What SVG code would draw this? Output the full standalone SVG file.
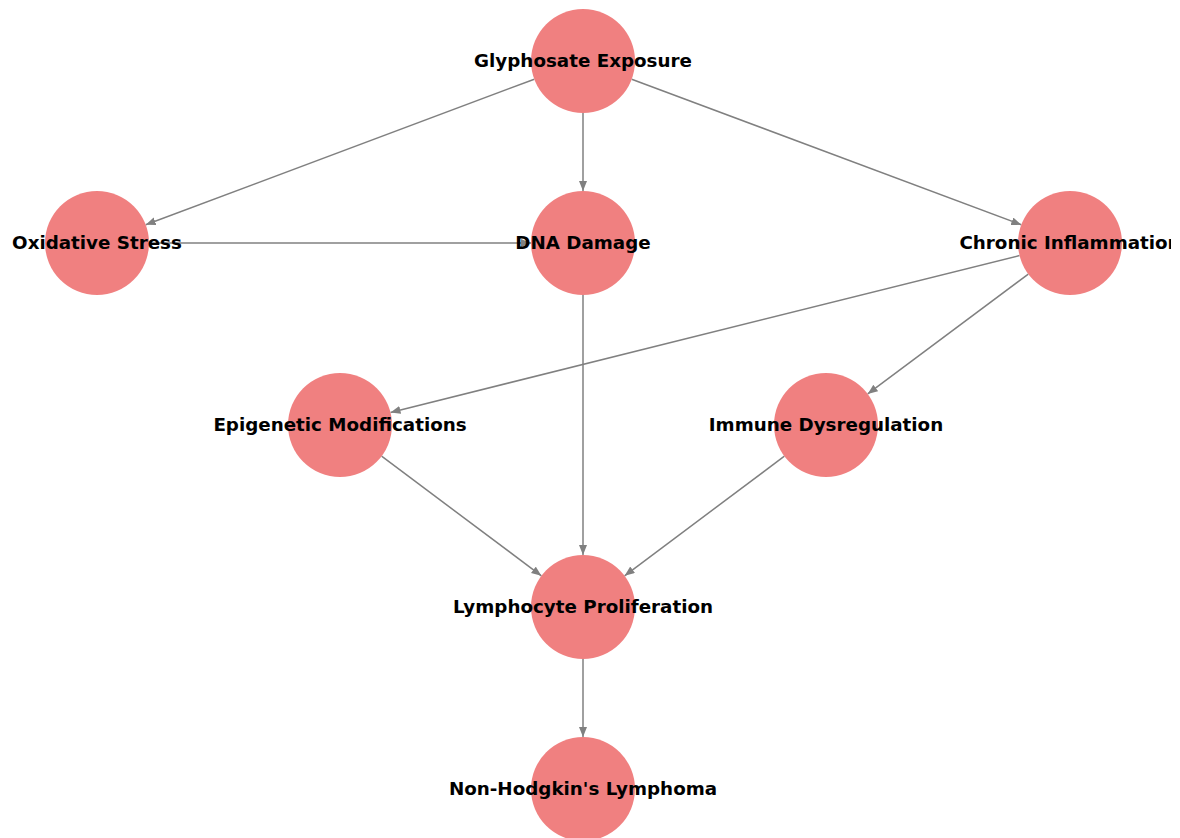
<svg xmlns="http://www.w3.org/2000/svg" width="1180" height="838" viewBox="0 0 1180 838">
<style>
.node circle{fill:#F08080;}
.node text{font-family:"DejaVu Sans","Liberation Sans",sans-serif;font-weight:bold;font-size:18.3px;fill:#000;text-anchor:middle;}
.edges line{stroke:#808080;stroke-width:1.5;marker-end:url(#arr);}
</style>
<defs>
<marker id="arr" markerUnits="userSpaceOnUse" markerWidth="12" markerHeight="10" refX="10" refY="4" orient="auto">
<path d="M0,0 L10,4 L0,8 Z" fill="#808080"/>
</marker>
<clipPath id="plotclip"><rect x="0" y="0" width="1171" height="838"/></clipPath>
</defs>
<rect width="1180" height="838" fill="#fff"/>
<g id="edges" class="edges">
<line x1="534.3" y1="79.2" x2="145.7" y2="224.8"/>
<line x1="583" y1="113" x2="583" y2="191"/>
<line x1="631.7" y1="79.2" x2="1021.3" y2="224.8"/>
<line x1="149" y1="243" x2="531" y2="243"/>
<line x1="583" y1="295" x2="583" y2="555"/>
<line x1="1019.5" y1="255.6" x2="390.5" y2="412.4"/>
<line x1="1028.3" y1="274.1" x2="867.7" y2="393.9"/>
<line x1="381.6" y1="456.2" x2="541.4" y2="575.8"/>
<line x1="784.4" y1="456.2" x2="624.6" y2="575.8"/>
<line x1="583" y1="659" x2="583" y2="737"/>
</g>
<g id="glyphosate" class="node"><circle cx="583" cy="61" r="52"/><text x="583" y="67">Glyphosate Exposure</text></g>
<g id="oxidative" class="node"><circle cx="97" cy="243" r="52"/><text x="97" y="249">Oxidative Stress</text></g>
<g id="dna" class="node"><circle cx="583" cy="243" r="52"/><text x="583" y="249">DNA Damage</text></g>
<g id="chronic" class="node" clip-path="url(#plotclip)"><circle cx="1070" cy="243" r="52"/><text x="1070" y="249">Chronic Inflammation</text></g>
<g id="epigenetic" class="node"><circle cx="340" cy="425" r="52"/><text x="340" y="431">Epigenetic Modifications</text></g>
<g id="immune" class="node"><circle cx="826" cy="425" r="52"/><text x="826" y="431">Immune Dysregulation</text></g>
<g id="lymphocyte" class="node"><circle cx="583" cy="607" r="52"/><text x="583" y="613">Lymphocyte Proliferation</text></g>
<g id="nhl" class="node"><circle cx="583" cy="789" r="52"/><text x="583" y="795">Non-Hodgkin's Lymphoma</text></g>
</svg>
